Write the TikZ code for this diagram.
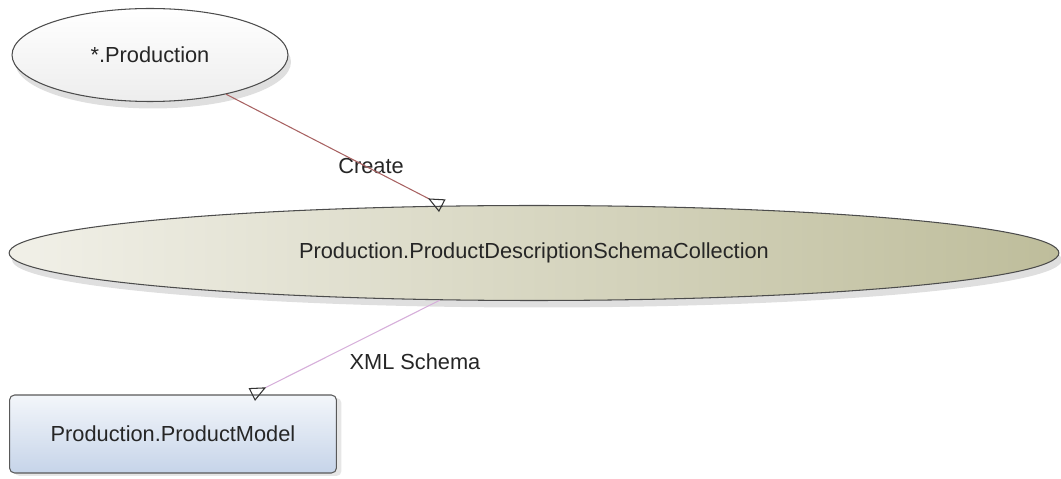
\documentclass[tikz,border=0pt]{standalone}
\usepackage{fontspec}
\setmainfont{Liberation Sans}
\usetikzlibrary{arrows.meta,shapes.geometric,shadows}
\definecolor{createline}{HTML}{A86262}
\definecolor{xmlline}{HTML}{D6AEDA}
\definecolor{collleft}{HTML}{F1F0E8}
\definecolor{collright}{HTML}{BEBD9B}
\definecolor{modeltop}{HTML}{F3F6FA}
\definecolor{modelbot}{HTML}{C6D4E9}

\begin{document}
\begin{tikzpicture}[x=0.02cm, y=-0.02cm,
            every node/.style={font=\fontsize{12.4}{14}\selectfont, text=black!85},
            ell/.style={ellipse, draw=black!70, line width=0.6pt, inner sep=0pt,
                drop shadow={shadow xshift=0.06cm, shadow yshift=-0.14cm, opacity=0.25}},
            tbl/.style={draw=black!65, line width=0.6pt, rounded corners=0.1cm, inner sep=0pt,
                top color=modeltop, bottom color=modelbot,
                drop shadow={shadow xshift=0.1cm, shadow yshift=-0.06cm, opacity=0.2}},
            arr/.style={-{Triangle[open, reversed, length=0.32cm, width=0.28cm, color=black!80]}, line width=0.6pt},
            lbl/.style={inner sep=1pt}
        ]
            \useasboundingbox (0,0) rectangle (1061,479);

            \node[ell, minimum width=5.52cm, minimum height=1.86cm, top color=white, bottom color=gray!14] (prod) at (150,55) {*.Production};
            \node[ell, minimum width=21cm, minimum height=1.9cm, left color=collleft, right color=collright] (coll) at (534,253) {Production.ProductDescriptionSchemaCollection};
            \node[tbl, minimum width=6.54cm, minimum height=1.56cm] (model) at (173,434) {Production.ProductModel};

            \node[lbl] (createlbl) at (371,166) {Create};
            \node[lbl] (xmllbl) at (415,362) {XML Schema};

            \draw[arr, draw=createline] (prod) -- (coll);
            \draw[arr, draw=xmlline] (coll) -- (model);
        \end{tikzpicture}
\end{document}
